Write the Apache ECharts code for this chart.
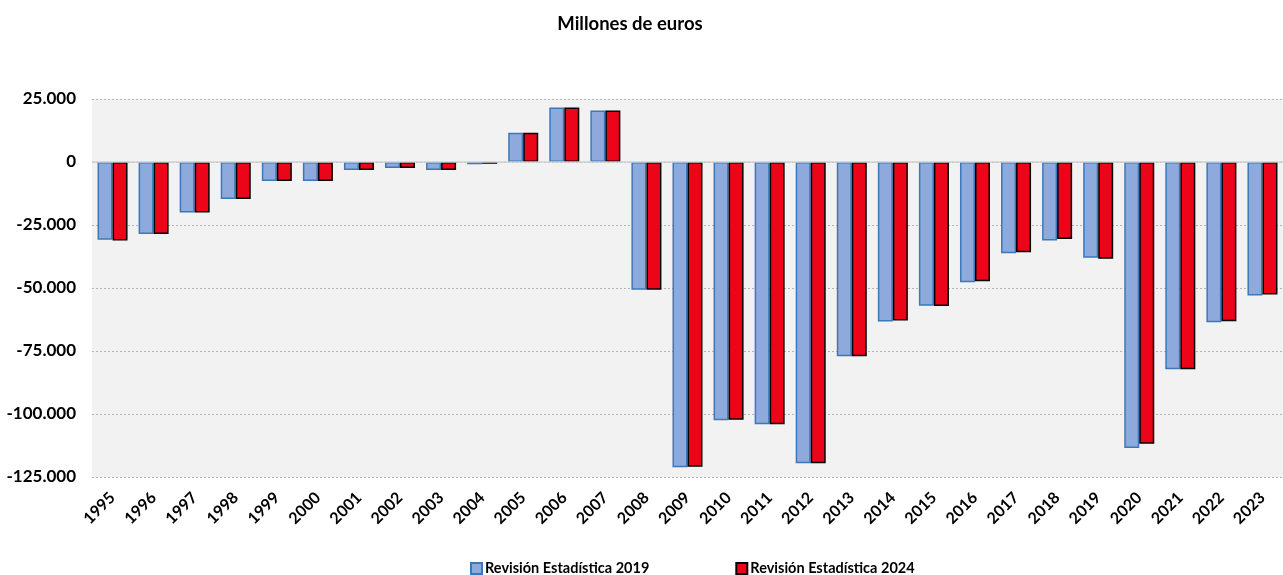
<!DOCTYPE html>
<html>
<head>
<meta charset="utf-8">
<script src="https://cdn.jsdelivr.net/npm/echarts@6/dist/echarts.min.js"></script>
<style>
  html, body { margin: 0; padding: 0; background: #fff; }
  #chart { width: 1283px; height: 575px; }
</style>
</head>
<body>
<div id="chart"></div>
<script>
const years = ["1995", "1996", "1997", "1998", "1999", "2000", "2001", "2002", "2003", "2004",
  "2005", "2006", "2007", "2008", "2009", "2010", "2011", "2012", "2013", "2014",
  "2015", "2016", "2017", "2018", "2019", "2020", "2021", "2022", "2023"];

const rev2019 = [-30900, -28600, -20000, -14700, -7500, -7500, -3150, -2350, -3150, -900,
  11600, 21600, 20400, -50700, -121100, -102500, -104100, -119500, -77100, -63300,
  -57000, -47700, -36200, -31200, -38000, -113500, -82200, -63600, -53000];

const rev2024 = [-31200, -28600, -20000, -14700, -7500, -7500, -3150, -2350, -3150, -700,
  11600, 21600, 20400, -50700, -120900, -102300, -104100, -119500, -77100, -62900,
  -57100, -47300, -35800, -30600, -38400, -111800, -82200, -63200, -52600];

const yTicks = { min: -125000, max: 25000, step: 25000 };

const fontFam = "Lato, 'Liberation Sans', sans-serif";

function fmt(v) {
  const s = Math.abs(v).toString().replace(/\B(?=(\d{3})+(?!\d))/g, ".");
  return (v < 0 ? "-" : "") + s;
}

const chart = echarts.init(document.getElementById("chart"));
chart.setOption({
  animation: false,
  backgroundColor: "#ffffff",
  title: {
    text: "Millones de euros",
    left: 625,
    top: 10,
    textAlign: "center",
    textStyle: { fontFamily: fontFam, fontSize: 18.5, fontWeight: "bold", color: "#000" }
  },
  legend: {
    left: 470,
    top: 561,
    padding: 0,
    itemWidth: 11,
    itemHeight: 11,
    itemGap: 86,
    icon: "rect",
    textStyle: { fontFamily: fontFam, fontSize: 14.5, fontWeight: "bold", color: "#000", padding: [0, 0, 0, -2] },
    data: ["Revisión Estadística 2019", "Revisión Estadística 2024"]
  },
  grid: {
    left: 92,
    top: 99,
    width: 1205,
    height: 378,
    show: true,
    backgroundColor: "#f2f2f2",
    borderWidth: 0
  },
  xAxis: {
    type: "category",
    data: years,
    position: "bottom",
    axisLine: { show: false, onZero: false },
    axisTick: { show: false },
    axisLabel: {
      rotate: 45,
      interval: 0,
      margin: 18,
      fontFamily: fontFam,
      fontSize: 16,
      fontWeight: "bold",
      color: "#000"
    }
  },
  yAxis: {
    type: "value",
    min: yTicks.min,
    max: yTicks.max,
    interval: yTicks.step,
    axisLine: { show: false },
    axisTick: { show: false },
    splitLine: { lineStyle: { color: "#b4b4b4", type: [2, 2], width: 1 } },
    axisLabel: {
      formatter: fmt,
      margin: 16,
      fontFamily: fontFam,
      fontSize: 17,
      fontWeight: "bold",
      color: "#000"
    }
  },
  series: [
    {
      name: "Revisión Estadística 2019",
      type: "bar",
      data: rev2019,
      barWidth: 15,
      barGap: "0%",
      itemStyle: { color: "#8eaadc", borderColor: "#3a78b9", borderWidth: 1.5 },
      markLine: {
        silent: true,
        symbol: "none",
        label: { show: false },
        lineStyle: { color: "#d0d0d0", type: "solid", width: 1.5 },
        data: [{ yAxis: 0 }]
      },
      z: 2
    },
    {
      name: "Revisión Estadística 2024",
      type: "bar",
      data: rev2024,
      barWidth: 15,
      itemStyle: { color: "#ec0519", borderColor: "#000000", borderWidth: 1.5 },
      z: 2
    }
  ]
});
</script>
</body>
</html>
